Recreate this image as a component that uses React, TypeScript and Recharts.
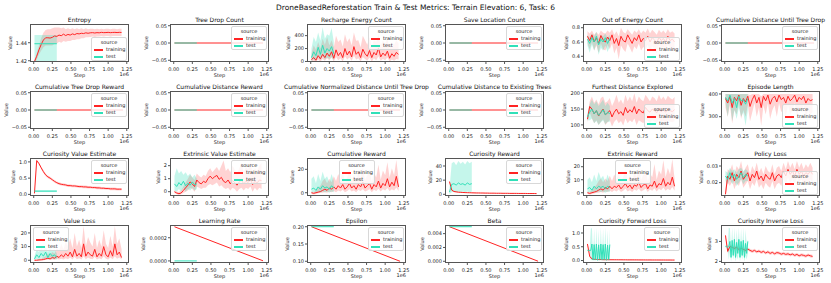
import React from "react";
import { Area, ComposedChart, Line, XAxis, YAxis } from "recharts";

const RED = "#ff2424";
const TEAL = "#30e0b8";
const FONT = "'DejaVu Sans', Verdana, sans-serif";

// step grids (env steps)
const TRAIN_STEPS = [10000, 40000, 70000, 100000, 130000, 160000, 190000, 220000, 250000, 280000, 310000, 340000, 370000, 400000, 430000, 460000, 490000, 520000, 550000, 580000, 610000, 640000, 670000, 700000, 730000, 760000, 790000, 820000, 850000, 880000, 910000, 940000, 970000, 1000000, 1030000, 1060000, 1090000, 1120000, 1150000, 1180000];
const TEST_STEPS = [10000, 40000, 70000, 100000, 130000, 160000, 190000, 220000, 250000, 280000, 310000];
const TEST_STEPS_FINE = [10000, 25000, 40000, 55000, 70000, 85000, 100000, 115000, 130000, 145000, 160000, 175000, 190000, 205000, 220000, 235000, 250000, 265000, 280000, 295000, 310000];
const TRAIN_ENDS = [10000, 1200000];
const TEST_ENDS = [10000, 310000];
const ZEROS = [0, 0];
const X_TICKS = [0, 250000, 500000, 750000, 1000000, 1250000];
const FLAT_TICKS = [-0.05, 0, 0.05];

// Entropy
const entropyTrain = [1.419, 1.425, 1.432, 1.438, 1.443, 1.4455, 1.4455, 1.4452, 1.446, 1.4475, 1.447, 1.4485, 1.4478, 1.4495, 1.448, 1.4492, 1.4485, 1.4498, 1.449, 1.4502, 1.4498, 1.4505, 1.4502, 1.451, 1.4505, 1.451, 1.4512, 1.4508, 1.4512, 1.451, 1.4515, 1.4512, 1.4513, 1.4515, 1.4512, 1.4514, 1.4515, 1.4513, 1.4515, 1.4514];
const entropyTrainHi = [1.421, 1.428, 1.437, 1.445, 1.451, 1.454, 1.455, 1.455, 1.456, 1.457, 1.457, 1.457, 1.456, 1.457, 1.455, 1.456, 1.455, 1.456, 1.455, 1.456, 1.455, 1.456, 1.455, 1.456, 1.455, 1.4555, 1.4555, 1.455, 1.4555, 1.455, 1.4555, 1.455, 1.4555, 1.4555, 1.455, 1.4555, 1.4555, 1.455, 1.4555, 1.4555];
const entropyTrainLo = [1.417, 1.421, 1.427, 1.431, 1.435, 1.437, 1.437, 1.437, 1.437, 1.439, 1.439, 1.441, 1.44, 1.442, 1.441, 1.442, 1.442, 1.443, 1.443, 1.444, 1.444, 1.445, 1.445, 1.446, 1.446, 1.4465, 1.447, 1.4465, 1.447, 1.447, 1.4475, 1.447, 1.4475, 1.4475, 1.447, 1.4475, 1.4475, 1.4475, 1.4475, 1.4475];
const entropyTest = [1.4389, 1.4389];
const entropyTestHi = [1.4486, 1.4486];
const entropyTestLo = [1.419, 1.419];

// Recharge Energy Count
const rechargeTrain = [30, 60, 20, 90, 40, 110, 60, 130, 80, 150, 50, 180, 90, 140, 60, 200, 100, 160, 70, 230, 110, 150, 60, 190, 120, 80, 170, 60, 140, 100, 210, 70, 130, 90, 160, 50, 120, 80, 140, 110];
const rechargeTrainHi = [120, 250, 180, 300, 200, 350, 260, 380, 250, 330, 220, 400, 300, 340, 230, 420, 300, 360, 250, 450, 320, 330, 220, 400, 330, 260, 380, 230, 330, 300, 420, 250, 320, 280, 360, 200, 300, 260, 330, 280];
const rechargeTrainLo = [0, 10, 0, 30, 0, 40, 10, 50, 20, 60, 0, 70, 20, 50, 0, 80, 30, 60, 10, 90, 30, 50, 0, 70, 40, 10, 60, 0, 50, 20, 80, 10, 40, 20, 60, 0, 30, 10, 40, 30];
const rechargeTest = [60, 150, 90, 220, 110, 250, 130, 200, 160, 230, 120];
const rechargeTestHi = [200, 380, 300, 450, 320, 530, 350, 420, 400, 520, 300];
const rechargeTestLo = [0, 40, 10, 80, 20, 90, 30, 60, 40, 70, 20];

// Out of Energy Count
const outTrain = [0.68, 0.62, 0.7, 0.6, 0.66, 0.58, 0.69, 0.63, 0.6, 0.67, 0.62, 0.7, 0.58, 0.65, 0.55, 0.68, 0.62, 0.6, 0.7, 0.64, 0.58, 0.66, 0.62, 0.7, 0.6, 0.65, 0.62, 0.68, 0.6, 0.66, 0.63, 0.58, 0.67, 0.62, 0.65, 0.6, 0.68, 0.62, 0.64, 0.6];
const outTrainHi = [0.75, 0.72, 0.76, 0.7, 0.74, 0.7, 0.76, 0.73, 0.72, 0.76, 0.73, 0.78, 0.7, 0.75, 0.68, 0.8, 0.74, 0.72, 0.78, 0.74, 0.7, 0.76, 0.73, 0.78, 0.72, 0.76, 0.73, 0.79, 0.72, 0.77, 0.74, 0.7, 0.77, 0.73, 0.76, 0.72, 0.78, 0.73, 0.75, 0.72];
const outTrainLo = [0.58, 0.5, 0.6, 0.48, 0.55, 0.45, 0.58, 0.5, 0.48, 0.56, 0.5, 0.58, 0.44, 0.52, 0.36, 0.55, 0.5, 0.46, 0.58, 0.52, 0.45, 0.54, 0.5, 0.58, 0.48, 0.53, 0.5, 0.56, 0.46, 0.54, 0.5, 0.44, 0.55, 0.5, 0.53, 0.46, 0.56, 0.5, 0.52, 0.46];
const outTest = [0.64, 0.58, 0.66, 0.6, 0.68, 0.56, 0.64, 0.6, 0.66, 0.58, 0.65];
const outTestHi = [0.7, 0.66, 0.72, 0.68, 0.74, 0.64, 0.7, 0.68, 0.72, 0.66, 0.7];
const outTestLo = [0.55, 0.45, 0.56, 0.48, 0.58, 0.42, 0.52, 0.48, 0.55, 0.46, 0.54];

// Furthest Distance Explored
const furthestTrain = [118, 158, 150, 135, 145, 128, 140, 150, 132, 138, 145, 125, 140, 150, 135, 142, 130, 155, 138, 148, 140, 158, 135, 150, 142, 138, 155, 145, 140, 150, 145, 138, 152, 142, 148, 140, 150, 145, 142, 148];
const furthestTrainHi = [130, 175, 190, 170, 180, 165, 185, 190, 170, 175, 185, 160, 175, 195, 170, 180, 165, 195, 175, 190, 175, 200, 170, 190, 180, 175, 195, 185, 175, 190, 185, 175, 195, 180, 190, 178, 192, 185, 180, 188];
const furthestTrainLo = [108, 140, 120, 105, 115, 100, 110, 118, 100, 108, 115, 95, 110, 118, 105, 112, 98, 120, 105, 115, 108, 120, 100, 115, 110, 105, 118, 112, 105, 115, 110, 105, 118, 108, 112, 105, 115, 110, 108, 112];
const furthestTest = [125, 140, 150, 135, 145, 130, 138, 148, 132, 140, 135];
const furthestTestHi = [135, 165, 180, 165, 175, 160, 170, 180, 160, 170, 160];
const furthestTestLo = [115, 115, 120, 105, 112, 100, 108, 115, 102, 110, 110];

// Episode Length
const episodeTrain = [380, 360, 390, 340, 385, 370, 395, 350, 380, 365, 390, 345, 375, 395, 360, 385, 340, 390, 370, 395, 355, 380, 390, 365, 395, 375, 385, 360, 390, 370, 380, 395, 365, 385, 375, 390, 360, 380, 370, 375];
const episodeTrainHi = [400, 400, 400, 400, 400, 400, 400, 400, 400, 400, 400, 395, 400, 400, 400, 400, 390, 400, 400, 400, 400, 400, 400, 400, 400, 400, 400, 400, 400, 400, 400, 400, 400, 400, 400, 400, 400, 400, 400, 400];
const episodeTrainLo = [340, 300, 350, 270, 330, 310, 360, 290, 330, 300, 350, 280, 320, 360, 300, 340, 260, 350, 310, 360, 290, 330, 350, 300, 360, 320, 340, 300, 350, 310, 330, 360, 300, 340, 320, 350, 300, 330, 310, 320];
const episodeTest = [385, 370, 395, 360, 380, 340, 390, 370, 375, 355, 380];
const episodeTestHi = [400, 400, 400, 400, 400, 400, 400, 400, 400, 400, 400];
const episodeTestLo = [360, 300, 370, 280, 330, 290, 340, 300, 320, 260, 330];

// Curiosity Value Estimate
const cveTrain = [0.03, 1.04, 0.95, 0.82, 0.7, 0.6, 0.54, 0.5, 0.45, 0.4, 0.36, 0.33, 0.31, 0.3, 0.29, 0.27, 0.27, 0.26, 0.26, 0.25, 0.24, 0.24, 0.23, 0.23, 0.22, 0.22, 0.21, 0.21, 0.2, 0.2, 0.19, 0.19, 0.18, 0.18, 0.17, 0.17, 0.17, 0.16, 0.16, 0.16];
const cveTrainHi = [0.04, 1.07, 0.99, 0.86, 0.74, 0.64, 0.58, 0.54, 0.49, 0.44, 0.4, 0.37, 0.35, 0.34, 0.33, 0.31, 0.31, 0.3, 0.3, 0.29, 0.28, 0.28, 0.27, 0.27, 0.26, 0.26, 0.25, 0.25, 0.24, 0.24, 0.23, 0.23, 0.22, 0.22, 0.21, 0.21, 0.21, 0.2, 0.2, 0.2];
const cveTrainLo = [0.02, 1.01, 0.91, 0.78, 0.66, 0.56, 0.5, 0.46, 0.41, 0.36, 0.32, 0.29, 0.27, 0.26, 0.25, 0.23, 0.23, 0.22, 0.22, 0.21, 0.2, 0.2, 0.19, 0.19, 0.18, 0.18, 0.17, 0.17, 0.16, 0.16, 0.15, 0.15, 0.14, 0.14, 0.13, 0.13, 0.13, 0.12, 0.12, 0.12];
const cveTest = [0.1, 0.1];
const cveTestHi = [0.13, 0.13];
const cveTestLo = [0.07, 0.07];

// Extrinsic Value Estimate
const eveTrain = [0.0, -0.1, -0.15, -0.1, 0.1, 0.3, 0.5, 0.75, 0.6, 0.4, 0.9, 0.7, 0.6, 0.8, 0.7, 1.0, 1.2, 1.0, 1.15, 1.25, 0.95, 1.1, 0.8, 0.7, 0.9, 0.6, 0.85, 0.7, 0.5, 0.75, 0.9, 0.6, 0.8, 0.7, 0.95, 0.55, 0.8, 0.65, 0.9, 0.85];
const eveTrainHi = [0.1, 0.0, 0.0, 0.1, 0.4, 0.7, 1.0, 1.3, 1.1, 0.9, 1.4, 1.2, 1.1, 1.3, 1.2, 1.6, 1.8, 1.5, 1.7, 1.9, 1.6, 2.0, 2.4, 1.6, 1.8, 1.5, 2.0, 1.7, 1.4, 1.8, 2.2, 1.5, 1.9, 1.7, 2.3, 1.4, 1.8, 1.6, 2.0, 2.2];
const eveTrainLo = [-0.1, -0.2, -0.25, -0.2, -0.1, 0.0, 0.1, 0.3, 0.2, 0.0, 0.4, 0.3, 0.2, 0.3, 0.3, 0.5, 0.6, 0.5, 0.6, 0.7, 0.4, 0.5, 0.3, 0.2, 0.3, 0.1, 0.3, 0.2, 0.0, 0.2, 0.3, 0.1, 0.3, 0.2, 0.4, 0.0, 0.3, 0.1, 0.3, 0.2];
const eveTest = [0.6, 0.4, 0.7, 0.5, 0.8, 0.45, 0.65, 0.5, 0.75, 0.55, 0.6];
const eveTestHi = [1.2, 1.8, 1.4, 1.6, 1.3, 1.5, 1.2, 1.4, 1.1, 1.3, 1.0];
const eveTestLo = [0.1, 0.0, 0.2, 0.0, 0.3, 0.0, 0.2, 0.1, 0.3, 0.1, 0.2];

// Cumulative Reward
const cumRewTrain = [0, -0.5, 0, 0.5, 1, 2, 3, 2, 4, 3, 5, 3, 6, 4, 7, 3, 5, 8, 4, 6, 3, 7, 5, 9, 4, 6, 8, 3, 7, 5, 10, 4, 8, 6, 12, 5, 9, 6, 14, 5];
const cumRewTrainHi = [1, 0.5, 2, 4, 6, 10, 12, 8, 12, 9, 14, 10, 16, 11, 18, 9, 13, 20, 11, 15, 10, 18, 13, 22, 11, 15, 20, 9, 17, 13, 24, 11, 19, 15, 26, 13, 21, 15, 28, 12];
const cumRewTrainLo = [-1, -1.5, -1, -0.5, 0, 0, 0.5, 0, 1, 0.5, 1.5, 0.5, 2, 1, 2.5, 0.5, 1.5, 3, 1, 2, 0.5, 2.5, 1.5, 3, 1, 2, 3, 0.5, 2.5, 1.5, 3.5, 1, 3, 2, 4, 1.5, 3, 2, 4.5, 1.5];
const cumRewTest = [3, 4, 2, 5, 3, 6, 4, 5, 3, 6, 4];
const cumRewTestHi = [12, 14, 8, 16, 10, 18, 12, 14, 9, 16, 10];
const cumRewTestLo = [0, 0.5, 0, 1, 0, 1, 0.5, 1, 0, 1, 0.5];

// Curiosity Reward
const curRewTrain = [18, 6, 4, 3.5, 3, 2.8, 2.6, 2.4, 2.3, 2.2, 2.1, 2, 1.9, 1.9, 1.8, 1.8, 1.7, 1.7, 1.6, 1.6, 1.6, 1.5, 1.5, 1.5, 1.4, 1.4, 1.4, 1.3, 1.3, 1.3, 1.3, 1.2, 1.2, 1.2, 1.2, 1.1, 1.1, 1.1, 1.1, 1.0];
const curRewTrainHi = [19, 7.5, 5, 4.3, 3.7, 3.4, 3.2, 3, 2.8, 2.7, 2.6, 2.5, 2.4, 2.3, 2.2, 2.2, 2.1, 2.1, 2, 2, 2, 1.9, 1.9, 1.9, 1.8, 1.8, 1.8, 1.7, 1.7, 1.7, 1.7, 1.6, 1.6, 1.6, 1.6, 1.5, 1.5, 1.5, 1.5, 1.4];
const curRewTrainLo = [17, 4.5, 3, 2.7, 2.3, 2.2, 2, 1.8, 1.8, 1.7, 1.6, 1.5, 1.4, 1.5, 1.4, 1.4, 1.3, 1.3, 1.2, 1.2, 1.2, 1.1, 1.1, 1.1, 1, 1, 1, 0.9, 0.9, 0.9, 0.9, 0.8, 0.8, 0.8, 0.8, 0.7, 0.7, 0.7, 0.7, 0.6];
const curRewTest = [3, 14, 15, 13, 16, 14, 15, 13, 16, 14, 15];
const curRewTestHi = [8, 44, 46, 41, 47, 43, 46, 42, 47, 44, 46];
const curRewTestLo = [0, 3, 4, 3, 4, 3, 4, 3, 4, 3, 4];

// Extrinsic Reward
const extRewTrain = [0, -0.5, 0, 0.5, 1, 2, 3, 2, 4, 3, 5, 3, 5, 4, 6, 3, 5, 7, 4, 6, 3, 6, 5, 8, 4, 6, 7, 3, 6, 5, 9, 4, 7, 6, 11, 5, 8, 6, 12, 5];
const extRewTrainHi = [1, 0.5, 2, 4, 6, 9, 11, 8, 11, 9, 13, 9, 14, 10, 16, 9, 12, 18, 10, 14, 9, 16, 12, 20, 10, 14, 18, 9, 15, 12, 22, 10, 17, 14, 25, 12, 19, 14, 26, 11];
const extRewTrainLo = [-1, -1.5, -1, -0.5, 0, 0, 0.5, 0, 1, 0.5, 1.5, 0.5, 2, 1, 2.5, 0.5, 1.5, 3, 1, 2, 0.5, 2.5, 1.5, 3, 1, 2, 3, 0.5, 2.5, 1.5, 3.5, 1, 3, 2, 4, 1.5, 3, 2, 4.5, 1.5];
const extRewTest = [3, 4, 2, 5, 3, 5, 4, 5, 3, 5, 4];
const extRewTestHi = [10, 12, 8, 14, 9, 16, 11, 13, 8, 14, 9];
const extRewTestLo = [0, 0.5, 0, 1, 0, 1, 0.5, 1, 0, 1, 0.5];

// Policy Loss
const policyTrain = [0.013, 0.024, 0.022, 0.026, 0.021, 0.025, 0.023, 0.027, 0.022, 0.024, 0.026, 0.021, 0.025, 0.023, 0.027, 0.022, 0.024, 0.021, 0.025, 0.023, 0.022, 0.026, 0.021, 0.024, 0.025, 0.023, 0.027, 0.024, 0.028, 0.025, 0.027, 0.024, 0.028, 0.025, 0.027, 0.024, 0.026, 0.025, 0.027, 0.025];
const policyTrainHi = [0.016, 0.028, 0.027, 0.031, 0.025, 0.03, 0.028, 0.033, 0.026, 0.029, 0.031, 0.025, 0.03, 0.027, 0.032, 0.026, 0.029, 0.025, 0.03, 0.027, 0.026, 0.031, 0.025, 0.029, 0.03, 0.027, 0.032, 0.028, 0.033, 0.029, 0.032, 0.028, 0.033, 0.029, 0.032, 0.028, 0.031, 0.029, 0.032, 0.029];
const policyTrainLo = [0.012, 0.02, 0.018, 0.021, 0.016, 0.02, 0.018, 0.022, 0.017, 0.019, 0.021, 0.016, 0.02, 0.018, 0.022, 0.017, 0.019, 0.016, 0.02, 0.018, 0.017, 0.021, 0.016, 0.019, 0.02, 0.018, 0.022, 0.019, 0.023, 0.02, 0.022, 0.019, 0.023, 0.02, 0.022, 0.019, 0.021, 0.02, 0.022, 0.02];
const policyTest = [0.024, 0.022, 0.026, 0.023, 0.025, 0.022, 0.024, 0.026, 0.023, 0.025, 0.024];
const policyTestHi = [0.027, 0.026, 0.029, 0.027, 0.028, 0.026, 0.028, 0.029, 0.027, 0.028, 0.027];
const policyTestLo = [0.021, 0.019, 0.022, 0.019, 0.021, 0.018, 0.02, 0.022, 0.019, 0.021, 0.021];

// Value Loss
const valueLossTrain = [0, 0, 0.2, 0.3, 0.5, 1, 1.5, 1, 2, 1.5, 3, 2, 4, 2.5, 5, 3, 6, 2.5, 8, 3, 5, 2.5, 12, 3, 6, 4, 3, 8, 2.5, 5, 3, 10, 4, 2.5, 7, 3, 12, 4, 6, 2];
const valueLossTrainHi = [0.5, 0.5, 1, 1.5, 2, 3, 5, 4, 6, 5, 9, 7, 12, 8, 14, 10, 16, 9, 20, 10, 15, 9, 25, 10, 17, 13, 10, 20, 9, 15, 10, 22, 12, 9, 18, 10, 25, 12, 16, 8];
const valueLossTrainLo = [0, 0, 0, 0, 0, 0.2, 0.5, 0.3, 0.6, 0.4, 1, 0.5, 1.2, 0.6, 1.5, 0.8, 2, 0.6, 2.5, 0.8, 1.5, 0.6, 3, 0.8, 2, 1.2, 0.8, 2.5, 0.6, 1.5, 0.8, 3, 1.2, 0.6, 2, 0.8, 3, 1.2, 2, 0.5];
const valueLossTest = [1, 4, 2, 5, 3, 6, 2, 5, 3, 4, 2];
const valueLossTestHi = [3, 8, 6, 9, 7, 10, 6, 9, 7, 8, 5];
const valueLossTestLo = [0, 1, 0, 2, 0.5, 2, 0.5, 2, 1, 1, 0.5];

// Learning Rate / Epsilon / Beta (linear schedules)
const lrTrain = [0.000295, 0.000001];
const lrTest = [0, 0];
const epsTrain = [0.2, 0.1];
const epsTest = [0.2, 0.2];
const betaTrain = [0.005, 0.00001];
const betaTest = [0.005, 0.005];

// Curiosity Forward Loss
const cflTrain = [0.6, 0.15, 0.06, 0.045, 0.04, 0.035, 0.035, 0.03, 0.03, 0.03, 0.028, 0.028, 0.027, 0.027, 0.026, 0.026, 0.025, 0.025, 0.024, 0.024, 0.024, 0.023, 0.023, 0.022, 0.022, 0.022, 0.021, 0.021, 0.021, 0.02, 0.02, 0.02, 0.019, 0.019, 0.019, 0.018, 0.018, 0.018, 0.017, 0.017];
const cflTrainHi = [0.65, 0.2, 0.08, 0.06, 0.05, 0.045, 0.045, 0.04, 0.04, 0.04, 0.038, 0.038, 0.037, 0.037, 0.036, 0.036, 0.035, 0.035, 0.034, 0.034, 0.034, 0.033, 0.033, 0.032, 0.032, 0.032, 0.031, 0.031, 0.031, 0.03, 0.03, 0.03, 0.029, 0.029, 0.029, 0.028, 0.028, 0.028, 0.027, 0.027];
const cflTrainLo = [0.55, 0.1, 0.04, 0.03, 0.03, 0.025, 0.025, 0.02, 0.02, 0.02, 0.018, 0.018, 0.017, 0.017, 0.016, 0.016, 0.015, 0.015, 0.014, 0.014, 0.014, 0.013, 0.013, 0.012, 0.012, 0.012, 0.011, 0.011, 0.011, 0.01, 0.01, 0.01, 0.009, 0.009, 0.009, 0.008, 0.008, 0.008, 0.007, 0.007];
const cflTest = [0.37, 0.37, 0.36, 0.37, 0.6, 0.02, 0.58, 0.03, 0.6, 0.01, 0.57, 0.04, 0.6, 0.02, 0.58, 0.03, 0.6, 0.01, 0.56, 0.03, 0.58];
const cflTestHi = [0.4, 0.4, 0.4, 1.15, 1.18, 0.08, 1.15, 0.1, 1.2, 0.06, 1.12, 0.15, 1.2, 0.08, 1.16, 0.1, 1.22, 0.06, 1.1, 0.12, 1.15];
const cflTestLo = [0.34, 0.34, 0.33, 0.0, 0.02, 0.0, 0.01, 0.0, 0.02, 0.0, 0.01, 0.0, 0.02, 0.0, 0.01, 0.0, 0.02, 0.0, 0.01, 0.0, 0.02];

// Curiosity Inverse Loss
const cilTrain = [3.3, 2.5, 2.75, 2.7, 2.65, 2.7, 2.6, 2.65, 2.6, 2.55, 2.62, 2.55, 2.5, 2.55, 2.48, 2.52, 2.45, 2.5, 2.42, 2.48, 2.4, 2.45, 2.38, 2.44, 2.42, 2.36, 2.4, 2.35, 2.38, 2.33, 2.37, 2.3, 2.35, 2.28, 2.33, 2.3, 2.26, 2.32, 2.28, 2.25];
const cilTrainHi = [3.35, 2.6, 2.85, 2.8, 2.75, 2.8, 2.7, 2.75, 2.7, 2.65, 2.7, 2.63, 2.58, 2.63, 2.56, 2.6, 2.53, 2.58, 2.5, 2.56, 2.48, 2.53, 2.46, 2.52, 2.5, 2.44, 2.48, 2.43, 2.46, 2.41, 2.45, 2.38, 2.43, 2.36, 2.41, 2.38, 2.34, 2.4, 2.36, 2.33];
const cilTrainLo = [3.2, 2.4, 2.65, 2.6, 2.55, 2.6, 2.5, 2.55, 2.5, 2.45, 2.54, 2.47, 2.42, 2.47, 2.4, 2.44, 2.37, 2.42, 2.34, 2.4, 2.32, 2.37, 2.3, 2.36, 2.34, 2.28, 2.32, 2.27, 2.3, 2.25, 2.29, 2.22, 2.27, 2.2, 2.25, 2.22, 2.18, 2.24, 2.2, 2.17];
const cilTest = [2.75, 2.75, 2.7, 2.75, 3.0, 2.2, 3.05, 2.3, 3.1, 2.2, 2.95, 2.4, 3.1, 2.2, 3.0, 2.3, 3.05, 2.2, 2.9, 2.4, 3.0];
const cilTestHi = [2.8, 2.8, 2.8, 3.7, 3.65, 2.5, 3.7, 2.6, 3.7, 2.5, 3.6, 2.8, 3.7, 2.5, 3.65, 2.6, 3.7, 2.5, 3.6, 2.8, 3.1];
const cilTestLo = [2.7, 2.7, 2.6, 2.1, 2.5, 2.0, 2.4, 2.1, 2.5, 2.0, 2.3, 2.1, 2.5, 2.0, 2.4, 2.1, 2.5, 2.0, 2.3, 2.1, 2.4];

type Series = { x: number[]; y: number[]; lo?: number[]; hi?: number[] };
type PanelDef = {
  title: string;
  train: Series;
  test: Series;
  domain: [number, number];
  ticks: number[];
  dec: number;
  legend: "ur" | "lr" | "uc" | "ul";
};

const FLAT_DOMAIN: [number, number] = [-0.055, 0.055];
const flat = (title: string): PanelDef => ({
  title,
  train: { x: TRAIN_ENDS, y: ZEROS },
  test: { x: TEST_ENDS, y: ZEROS },
  domain: FLAT_DOMAIN,
  ticks: FLAT_TICKS,
  dec: 2,
  legend: "ur",
});

const PANELS: PanelDef[] = [
  { title: "Entropy", train: { x: TRAIN_STEPS, y: entropyTrain, lo: entropyTrainLo, hi: entropyTrainHi }, test: { x: TEST_ENDS, y: entropyTest, lo: entropyTestLo, hi: entropyTestHi }, domain: [1.4186, 1.4608], ticks: [1.42, 1.44], dec: 2, legend: "lr" },
  flat("Tree Drop Count"),
  { title: "Recharge Energy Count", train: { x: TRAIN_STEPS, y: rechargeTrain, lo: rechargeTrainLo, hi: rechargeTrainHi }, test: { x: TEST_STEPS, y: rechargeTest, lo: rechargeTestLo, hi: rechargeTestHi }, domain: [-8, 580], ticks: [0, 200, 400], dec: 0, legend: "ur" },
  flat("Save Location Count"),
  { title: "Out of Energy Count", train: { x: TRAIN_STEPS, y: outTrain, lo: outTrainLo, hi: outTrainHi }, test: { x: TEST_STEPS, y: outTest, lo: outTestLo, hi: outTestHi }, domain: [0.32, 0.852], ticks: [0.4, 0.6, 0.8], dec: 1, legend: "lr" },
  flat("Cumulative Distance Until Tree Drop"),

  flat("Cumulative Tree Drop Reward"),
  flat("Cumulative Distance Reward"),
  flat("Cumulative Normalized Distance Until Tree Drop"),
  flat("Cumulative Distance to Existing Trees"),
  { title: "Furthest Distance Explored", train: { x: TRAIN_STEPS, y: furthestTrain, lo: furthestTrainLo, hi: furthestTrainHi }, test: { x: TEST_STEPS, y: furthestTest, lo: furthestTestLo, hi: furthestTestHi }, domain: [87, 207], ticks: [100, 150, 200], dec: 0, legend: "lr" },
  { title: "Episode Length", train: { x: TRAIN_STEPS, y: episodeTrain, lo: episodeTrainLo, hi: episodeTrainHi }, test: { x: TEST_STEPS, y: episodeTest, lo: episodeTestLo, hi: episodeTestHi }, domain: [246, 413], ticks: [300, 400], dec: 0, legend: "lr" },

  { title: "Curiosity Value Estimate", train: { x: TRAIN_STEPS, y: cveTrain, lo: cveTrainLo, hi: cveTrainHi }, test: { x: TEST_ENDS, y: cveTest, lo: cveTestLo, hi: cveTestHi }, domain: [-0.05, 1.12], ticks: [0, 0.5, 1], dec: 1, legend: "ur" },
  { title: "Extrinsic Value Estimate", train: { x: TRAIN_STEPS, y: eveTrain, lo: eveTrainLo, hi: eveTrainHi }, test: { x: TEST_STEPS, y: eveTest, lo: eveTestLo, hi: eveTestHi }, domain: [-0.33, 2.59], ticks: [0, 1, 2], dec: 0, legend: "ur" },
  { title: "Cumulative Reward", train: { x: TRAIN_STEPS, y: cumRewTrain, lo: cumRewTrainLo, hi: cumRewTrainHi }, test: { x: TEST_STEPS, y: cumRewTest, lo: cumRewTestLo, hi: cumRewTestHi }, domain: [-2.8, 29.7], ticks: [0, 20], dec: 0, legend: "uc" },
  { title: "Curiosity Reward", train: { x: TRAIN_STEPS, y: curRewTrain, lo: curRewTrainLo, hi: curRewTrainHi }, test: { x: TEST_STEPS, y: curRewTest, lo: curRewTestLo, hi: curRewTestHi }, domain: [-2.4, 51.3], ticks: [0, 20, 40], dec: 0, legend: "ur" },
  { title: "Extrinsic Reward", train: { x: TRAIN_STEPS, y: extRewTrain, lo: extRewTrainLo, hi: extRewTrainHi }, test: { x: TEST_STEPS, y: extRewTest, lo: extRewTestLo, hi: extRewTestHi }, domain: [-2.5, 26.7], ticks: [0, 10, 20], dec: 0, legend: "uc" },
  { title: "Policy Loss", train: { x: TRAIN_STEPS, y: policyTrain, lo: policyTrainLo, hi: policyTrainHi }, test: { x: TEST_STEPS, y: policyTest, lo: policyTestLo, hi: policyTestHi }, domain: [0.012, 0.0348], ticks: [0.02, 0.03], dec: 2, legend: "lr" },

  { title: "Value Loss", train: { x: TRAIN_STEPS, y: valueLossTrain, lo: valueLossTrainLo, hi: valueLossTrainHi }, test: { x: TEST_STEPS, y: valueLossTest, lo: valueLossTestLo, hi: valueLossTestHi }, domain: [-2, 25.8], ticks: [0, 10, 20], dec: 0, legend: "ul" },
  { title: "Learning Rate", train: { x: TRAIN_ENDS, y: lrTrain }, test: { x: TEST_ENDS, y: lrTest }, domain: [-0.000018, 0.00031], ticks: [0, 0.0002], dec: 4, legend: "ur" },
  { title: "Epsilon", train: { x: TRAIN_ENDS, y: epsTrain }, test: { x: TEST_ENDS, y: epsTest }, domain: [0.095, 0.205], ticks: [0.1, 0.15, 0.2], dec: 2, legend: "ur" },
  { title: "Beta", train: { x: TRAIN_ENDS, y: betaTrain }, test: { x: TEST_ENDS, y: betaTest }, domain: [-0.00025, 0.00525], ticks: [0, 0.002, 0.004], dec: 3, legend: "ur" },
  { title: "Curiosity Forward Loss", train: { x: TRAIN_STEPS, y: cflTrain, lo: cflTrainLo, hi: cflTrainHi }, test: { x: TEST_STEPS_FINE, y: cflTest, lo: cflTestLo, hi: cflTestHi }, domain: [-0.09, 1.29], ticks: [0, 0.5, 1], dec: 1, legend: "ur" },
  { title: "Curiosity Inverse Loss", train: { x: TRAIN_STEPS, y: cilTrain, lo: cilTrainLo, hi: cilTrainHi }, test: { x: TEST_STEPS_FINE, y: cilTest, lo: cilTestLo, hi: cilTestHi }, domain: [1.92, 3.82], ticks: [2, 3], dec: 0, legend: "ur" },
];

// layout of the 4x6 grid (plot area of each subplot)
const COL_X = [30, 170, 307, 445, 583, 721];
const ROW_Y = [24, 91, 158, 225];
const PW = 99;
const PH = 38;
const AXIS_W = 40;
const TOP_PAD = 4;
const RIGHT_PAD = 10;
const X_AXIS_H = 14;

const tickStyle = { fontSize: 5, fill: "#222", fontFamily: FONT };
const fmtY = (dec: number) => (v: number) => v.toFixed(dec).replace("-", "\u2212");
const textW = (s: string) => [...s].reduce((w, c) => w + (c === "." ? 1.6 : c === "\u2212" ? 4.2 : 3.2), 0);

const toLine = (s: Series) => s.x.map((x, i) => ({ x, y: s.y[i] }));
const toBand = (s: Series) =>
  s.lo && s.hi ? s.x.map((x, i) => ({ x, r: [s.lo![i], s.hi![i]] })) : null;

function SourceLegend({ pos }: { pos: PanelDef["legend"] }) {
  const style: React.CSSProperties = {
    position: "absolute",
    width: 36,
    height: 24,
    boxSizing: "border-box",
    border: "1px solid #d8d8d8",
    borderRadius: 2,
    background: "rgba(255,255,255,0.8)",
    fontSize: 5,
    color: "#222",
  };
  if (pos[0] === "u") style.top = 2;
  else style.bottom = 1;
  if (pos[1] === "r") style.right = 2;
  else if (pos[1] === "l") style.left = 3;
  else style.left = (PW - 36) / 2;
  const row = (color: string, label: string) => (
    <div style={{ position: "relative", height: 7, lineHeight: "7px" }}>
      <span style={{ position: "absolute", left: 2, top: 3, width: 9, height: 1.6, background: color }} />
      <span style={{ position: "absolute", left: 14 }}>{label}</span>
    </div>
  );
  return (
    <div style={style}>
      <div style={{ textAlign: "center", height: 8, lineHeight: "8px" }}>source</div>
      {row(RED, "training")}
      {row(TEAL, "test")}
    </div>
  );
}

function Panel({ p, left, top }: { p: PanelDef; left: number; top: number }) {
  const trainBand = toBand(p.train);
  const testBand = toBand(p.test);
  const fmt = fmtY(p.dec);
  const labelOffset = 9 + Math.max(...p.ticks.map((t) => textW(fmt(t))));
  return (
    <div style={{ position: "absolute", left, top, width: PW, height: PH }}>
      <div style={{ position: "absolute", left: -AXIS_W, top: -TOP_PAD }}>
        <ComposedChart
          width={AXIS_W + PW + RIGHT_PAD}
          height={TOP_PAD + PH + X_AXIS_H}
          margin={{ top: TOP_PAD, right: RIGHT_PAD, bottom: 0, left: 0 }}
        >
          <XAxis
            type="number"
            dataKey="x"
            domain={[-50000, 1280000]}
            ticks={X_TICKS}
            interval={0}
            allowDataOverflow
            height={X_AXIS_H}
            axisLine={false}
            tickSize={2}
            tickMargin={3}
            tickLine={{ stroke: "#555" }}
            tick={tickStyle}
            tickFormatter={(v: number) => (v / 1e6).toFixed(2)}
          />
          <YAxis
            type="number"
            domain={p.domain}
            ticks={p.ticks}
            interval={0}
            allowDataOverflow
            width={AXIS_W}
            axisLine={false}
            tickSize={2}
            tickMargin={1}
            tickLine={{ stroke: "#555" }}
            tick={tickStyle}
            tickFormatter={fmt}
          />
          {trainBand && (
            <Area data={trainBand} dataKey="r" type="linear" stroke="none" fill={RED} fillOpacity={0.2} dot={false} activeDot={false} isAnimationActive={false} />
          )}
          <Line data={toLine(p.train)} dataKey="y" type="linear" stroke={RED} strokeWidth={1} dot={false} activeDot={false} isAnimationActive={false} />
          {testBand && (
            <Area data={testBand} dataKey="r" type="linear" stroke="none" fill={TEAL} fillOpacity={0.28} dot={false} activeDot={false} isAnimationActive={false} />
          )}
          <Line data={toLine(p.test)} dataKey="y" type="linear" stroke={TEAL} strokeWidth={1} dot={false} activeDot={false} isAnimationActive={false} />
        </ComposedChart>
      </div>
      <div style={{ position: "absolute", inset: 0, border: "1px solid #555", boxSizing: "border-box", pointerEvents: "none" }} />
      <div style={{ position: "absolute", left: -30, width: PW + 60, top: -8, height: 8, lineHeight: "8px", fontSize: 6, textAlign: "center", whiteSpace: "nowrap", color: "#111" }}>
        {p.title}
      </div>
      <div style={{ position: "absolute", left: -labelOffset, top: PH / 2, fontSize: 5, lineHeight: "6px", color: "#222", transform: "translate(-50%, -50%) rotate(-90deg)" }}>
        Value
      </div>
      <div style={{ position: "absolute", left: 0, width: PW, top: PH + 9.5, lineHeight: "7px", fontSize: 5, textAlign: "center", color: "#222" }}>
        Step
      </div>
      <div style={{ position: "absolute", right: 0, top: PH + 8.5, lineHeight: "7px", fontSize: 5, color: "#222" }}>1e6</div>
      <SourceLegend pos={p.legend} />
    </div>
  );
}

export default function App() {
  return (
    <div style={{ position: "absolute", left: 0, top: 0, width: 831, height: 283, background: "#fff", fontFamily: FONT, overflow: "hidden" }}>
      <div style={{ position: "absolute", left: 0, top: 3, width: 831, textAlign: "center", fontSize: 7.5, lineHeight: "10px", color: "#111" }}>
        DroneBasedReforestation Train &amp; Test Metrics: Terrain Elevation: 6, Task: 6
      </div>
      {PANELS.map((p, i) => (
        <Panel key={p.title} p={p} left={COL_X[i % 6]} top={ROW_Y[Math.floor(i / 6)]} />
      ))}
    </div>
  );
}
